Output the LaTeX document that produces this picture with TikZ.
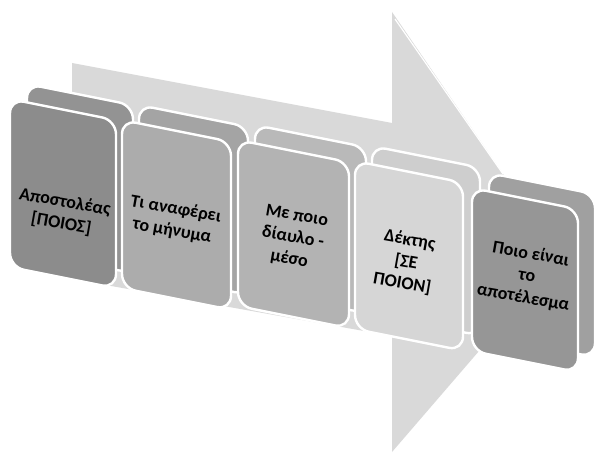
\documentclass[tikz,border=0pt]{standalone}
\usepackage{fontspec}
\setmainfont{Carlito}
\definecolor{arrowgray}{HTML}{D9D9D9}
\definecolor{fA}{HTML}{8C8C8C}\definecolor{bA}{HTML}{939393}
\definecolor{fB}{HTML}{ACACAC}\definecolor{bB}{HTML}{A4A4A4}
\definecolor{fC}{HTML}{B3B3B3}\definecolor{bC}{HTML}{B9B9B9}
\definecolor{fD}{HTML}{D6D6D6}\definecolor{bD}{HTML}{CECECE}
\definecolor{fE}{HTML}{969696}\definecolor{bE}{HTML}{A0A0A0}
\newcommand\cubeface[6]{%
  \filldraw[fill=#6, facestyle] ({#1+17},{#2-15}) -- ({#1+#3+17},{#2+0.2*#3-15}) -- ({#1+#3+17},{#2+0.2*#3+#4-15}) -- ({#1+17},{#2+#4-15}) -- cycle;
  \filldraw[fill=#5, facestyle] (#1,#2) -- ({#1+#3},{#2+0.2*#3}) -- ({#1+#3},{#2+0.2*#3+#4}) -- (#1,{#2+#4}) -- cycle;
}
\begin{document}
\begin{tikzpicture}[x=1pt,y=-1pt,
  facestyle/.style={draw=white, line width=2.4, rounded corners=14},
  boxtext/.style={align=center, font=\fontsize{18}{22}\selectfont\bfseries, text=black, inner sep=0pt, rotate=-10}]
\useasboundingbox (0,0) rectangle (597,454);
\fill[white] (0,0) rectangle (597,454);
% big arrow
\fill[arrowgray] (72,63) -- (392,123) -- (392,12) -- (560,257) -- (392,452) -- (392,336) -- (100,284) -- (72,270) -- cycle;
\draw[white, line width=1.2] (395,19) -- (503,174);
% boxes
\cubeface{10}{99}{106}{168}{fA}{bA}
\cubeface{122}{120}{109}{168}{fB}{bB}
\cubeface{238}{140}{111}{166}{fC}{bC}
\cubeface{355}{161}{108}{168}{fD}{bD}
\cubeface{472}{188}{106}{163}{fE}{bE}
% texts
\node[boxtext] (t1) at (63,213) {Αποστολέας\\{[ΠΟΙΟΣ]}};
\node[boxtext] (t2) at (174,220) {Τι αναφέρει\\το μήνυμα};
\node[boxtext] (t3) at (293,238) {Με ποιο\\δίαυλο -\\μέσο};
\node[boxtext] (t4) at (406,262) {Δέκτης\\{[ΣΕ}\\ΠΟΙΟΝ]};
\node[boxtext] (t5) at (527,276) {Ποιο είναι\\το\\αποτέλεσμα};
\end{tikzpicture}
\end{document}
